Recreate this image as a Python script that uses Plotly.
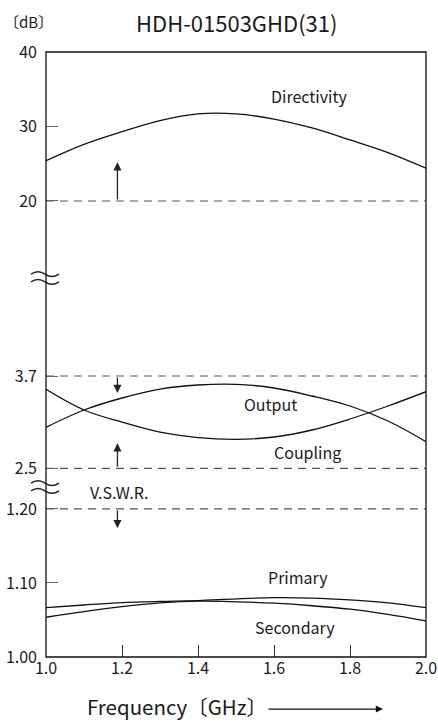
import plotly.graph_objects as go

# ---------------- data ----------------
freq = [1.0, 1.1, 1.2, 1.3, 1.4, 1.5, 1.6, 1.7, 1.8, 1.9, 2.0]

directivity = [25.4, 27.6, 29.3, 30.8, 31.7, 31.7, 31.0, 29.8, 28.2, 26.5, 24.4]
output_db = [3.033, 3.258, 3.414, 3.53, 3.583, 3.592, 3.544, 3.44, 3.31, 3.115, 2.846]
coupling_db = [3.527, 3.258, 3.10, 2.97, 2.90, 2.877, 2.907, 2.998, 3.141, 3.31, 3.496]
primary = [1.0666, 1.0702, 1.0734, 1.0750, 1.0761, 1.0785, 1.0801, 1.0795, 1.0770, 1.0730, 1.0666]
secondary = [1.0536, 1.0612, 1.0680, 1.0730, 1.0753, 1.0745, 1.0726, 1.0692, 1.0645, 1.0575, 1.0486]

spec_directivity = 20
spec_output = 3.7
spec_coupling = 2.5
spec_vswr = 1.20

x_ticks = [1.0, 1.2, 1.4, 1.6, 1.8, 2.0]
x_tick_text = ["1.0", "1.2", "1.4", "1.6", "1.8", "2.0"]
y_top_ticks = [20, 30, 40]
y_mid_ticks = [2.5, 3.7]
y_mid_text = ["2.5", "3.7"]
y_bot_ticks = [1.00, 1.10, 1.20]
y_bot_text = ["1.00", "1.10", "1.20"]

title_text = "HDH-01503GHD(31)"
unit_text = "〔dB〕"
x_title = "Frequency〔GHz〕"

# ---------------- style ----------------
FONT = "Noto Sans CJK JP, Noto Sans, sans-serif"
INK = "#1a1a1a"
CURVE = dict(color="#111111", width=1.3, shape="spline", smoothing=1.0)
DASH = dict(color="#555555", width=1.2, dash="8px,6px")

fig = go.Figure()

# curves
fig.add_trace(go.Scatter(x=freq, y=directivity, mode="lines", line=CURVE, yaxis="y3", name="Directivity"))
fig.add_trace(go.Scatter(x=freq, y=output_db, mode="lines", line=CURVE, yaxis="y2", name="Output"))
fig.add_trace(go.Scatter(x=freq, y=coupling_db, mode="lines", line=CURVE, yaxis="y2", name="Coupling"))
fig.add_trace(go.Scatter(x=freq, y=primary, mode="lines", line=CURVE, yaxis="y", name="Primary"))
fig.add_trace(go.Scatter(x=freq, y=secondary, mode="lines", line=CURVE, yaxis="y", name="Secondary"))

# spec limits (dashed)
xs = [freq[0], freq[-1]]
fig.add_trace(go.Scatter(x=xs, y=[spec_directivity] * 2, mode="lines", line=DASH, yaxis="y3"))
fig.add_trace(go.Scatter(x=xs, y=[spec_output] * 2, mode="lines", line=DASH, yaxis="y2"))
fig.add_trace(go.Scatter(x=xs, y=[spec_coupling] * 2, mode="lines", line=DASH, yaxis="y2"))
fig.add_trace(go.Scatter(x=xs, y=[spec_vswr] * 2, mode="lines", line=DASH, yaxis="y"))

# ---------------- layout ----------------
PLOT_H = 605.0
PLOT_W = 380.0
d_bot = 170 / PLOT_H
d_mid = 379 / PLOT_H

tickfont = dict(family=FONT, size=16, color=INK)
yax_common = dict(showgrid=False, zeroline=False, showline=False, ticks="inside",
                  ticklen=12, tickwidth=1.3, tickcolor="#666666", tickfont=tickfont,
                  ticklabelstandoff=8, fixedrange=True, automargin=False)

fig.update_layout(
    width=438, height=722,
    margin=dict(l=46, r=12, t=52, b=65, autoexpand=False),
    paper_bgcolor="white", plot_bgcolor="white",
    showlegend=False,
    font=dict(family=FONT, color=INK),
    xaxis=dict(range=[1.0, 2.0], tickvals=x_ticks, ticktext=x_tick_text,
               showgrid=False, zeroline=False, showline=False, automargin=False,
               ticks="inside", ticklen=12, tickwidth=1.3, tickcolor="#333333",
               tickfont=tickfont, anchor="y", fixedrange=True),
    yaxis=dict(domain=[0, d_bot], range=[0.9999, 1.2297], tickvals=y_bot_ticks,
               ticktext=y_bot_text, anchor="x", **yax_common),
    yaxis2=dict(domain=[d_bot, d_mid], range=[2.257, 4.974], tickvals=y_mid_ticks,
                ticktext=y_mid_text, anchor="x", **yax_common),
    yaxis3=dict(domain=[d_mid, 1], range=[9.66, 40.001], tickvals=y_top_ticks,
                anchor="x", **yax_common),
)

# frame
fig.add_shape(type="rect", xref="paper", yref="paper", x0=0, x1=1, y0=0, y1=1,
              line=dict(color="#111111", width=1.3), layer="above")

ann_font = dict(family=FONT, size=16, color=INK)

# curve labels
fig.add_annotation(x=1.692, y=34.1, xref="x", yref="y3", text="Directivity", showarrow=False, font=ann_font)
fig.add_annotation(x=1.591, y=3.336, xref="x", yref="y2", text="Output", showarrow=False, font=ann_font)
fig.add_annotation(x=1.687, y=2.712, xref="x", yref="y2", text="Coupling", showarrow=False, font=ann_font)
fig.add_annotation(x=1.191, y=1.223, xref="x", yref="y", text="V.S.W.R.", showarrow=False, font=ann_font)
fig.add_annotation(x=1.662, y=1.108, xref="x", yref="y", text="Primary", showarrow=False, font=ann_font)
fig.add_annotation(x=1.655, y=1.0405, xref="x", yref="y", text="Secondary", showarrow=False, font=ann_font)

# spec arrows
arrow_x = 1.188
arr = dict(showarrow=True, arrowhead=2, arrowsize=1.25, arrowwidth=1.3, arrowcolor="#222222", text="")
fig.add_annotation(x=arrow_x, y=25.2, ax=arrow_x, ay=spec_directivity, xref="x", yref="y3",
                   axref="x", ayref="y3", **arr)
fig.add_annotation(x=arrow_x, y=3.48, ax=arrow_x, ay=spec_output, xref="x", yref="y2",
                   axref="x", ayref="y2", **arr)
fig.add_annotation(x=arrow_x, y=2.825, ax=arrow_x, ay=spec_coupling, xref="x", yref="y2",
                   axref="x", ayref="y2", **arr)
fig.add_annotation(x=arrow_x, y=1.174, ax=arrow_x, ay=spec_vswr, xref="x", yref="y",
                   axref="x", ayref="y", **arr)

# axis break symbols: two thin wavy strokes crossing the left axis
wx0 = -15 / PLOT_W
ww = 28 / PLOT_W
amp = 2.4 / PLOT_H
sep = 3.8 / PLOT_H
for yb in (d_bot, d_mid):
    for dy in (sep, -sep):
        y0 = yb + dy
        path = (f"M {wx0},{y0} Q {wx0 + ww / 4},{y0 + 2 * amp} {wx0 + ww / 2},{y0} "
                f"T {wx0 + ww},{y0}")
        fig.add_shape(type="path", path=path, xref="paper", yref="paper",
                      line=dict(color="#222222", width=1.5), layer="above")

# title, unit, x title
fig.add_annotation(x=0.5, y=1.0496, xref="paper", yref="paper", text=title_text, showarrow=False,
                   font=dict(family=FONT, size=22, color=INK), xanchor="center", yanchor="middle")
fig.add_annotation(x=-44 / PLOT_W, y=1.0496, xref="paper", yref="paper", text=unit_text, showarrow=False,
                   font=dict(family=FONT, size=15, color=INK), xanchor="left", yanchor="middle")
fig.add_annotation(x=0.345, y=-0.081, xref="paper", yref="paper", text=x_title, showarrow=False,
                   font=dict(family=FONT, size=20.5, color=INK), xanchor="center", yanchor="middle")
fig.add_annotation(x=0.8868, y=-0.086, xref="paper", yref="paper", text="", showarrow=True,
                   ax=-116, ay=0, arrowhead=2, arrowsize=1.1, arrowwidth=1.3, arrowcolor="#111111")

fig.write_html("out.html", config={"displayModeBar": False})
